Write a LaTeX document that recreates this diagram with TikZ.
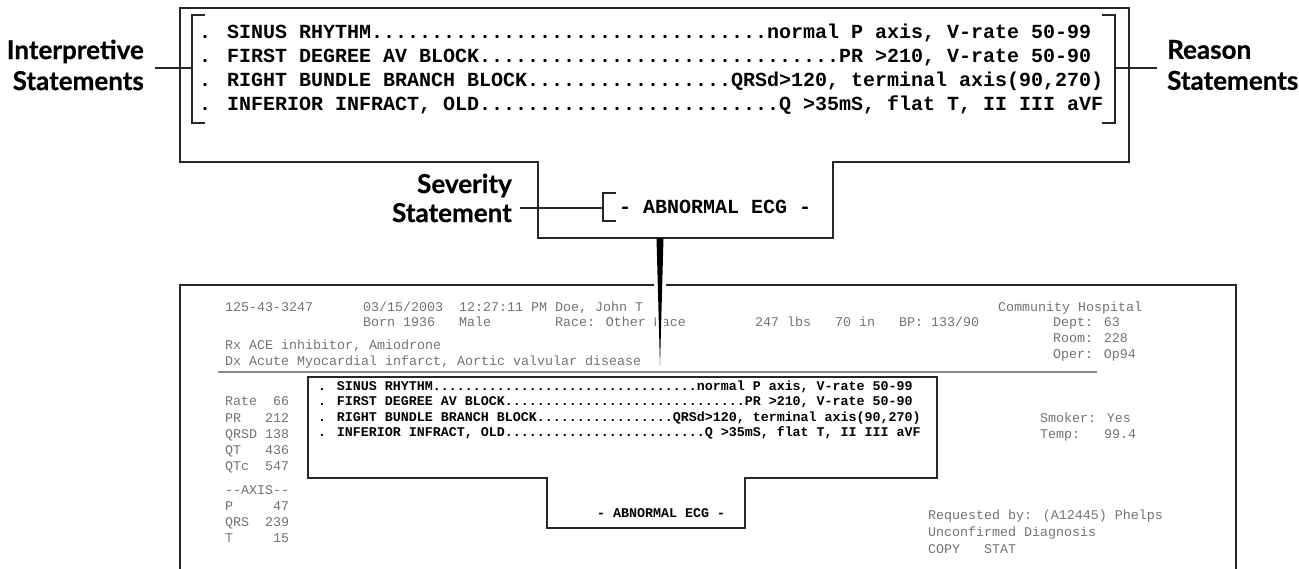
\documentclass[tikz,border=0pt]{standalone}
\usepackage{fontspec}
\setmainfont{Lato}
\newfontfamily\labfont[BoldFeatures={FakeBold=0.6}]{Lato}
\newfontfamily\ecgmono{Liberation Mono}
\definecolor{rep}{gray}{0.45}
\definecolor{frame}{gray}{0.15}
\definecolor{rule}{gray}{0.55}

\tikzset{
  lab/.style={font=\labfont\bfseries\fontsize{26}{31}\selectfont, inner sep=0pt},
  big/.style={font=\ecgmono\bfseries\fontsize{20}{24}\selectfont, anchor=base west, inner sep=0pt},
  small/.style={font=\ecgmono\bfseries\fontsize{13.33}{16}\selectfont, anchor=base west, inner sep=0pt},
  grey/.style={font=\ecgmono\fontsize{13.33}{16}\selectfont, text=rep, anchor=base west, inner sep=0pt},
  outline/.style={draw=frame, line width=1.5pt},
  brk/.style={draw=frame, line width=1.3pt},
  lead/.style={draw=frame, line width=1.2pt},
  repbox/.style={draw=black!85, line width=1.5pt},
  inbox/.style={draw=black!85, line width=2pt},
}

\begin{document}
\begin{tikzpicture}[x=1pt,y=-1pt]
\useasboundingbox (0,0) rectangle (1299,569);
\fill[white] (0,0) rectangle (1299,569);

% ---------- enlarged statement panel ----------
\draw[outline] (180,8) -- (1129,8) -- (1129,162) -- (833,162) -- (833,238)
  -- (538,238) -- (538,162) -- (180,162) -- cycle;

\node[big] (s1) at (199,39) {. SINUS RHYTHM.................................normal P axis, V-rate 50-99};
\node[big] (s2) at (199,63) {. FIRST DEGREE AV BLOCK..............................PR >210, V-rate 50-90};
\node[big] (s3) at (199,87) {. RIGHT BUNDLE BRANCH BLOCK.................QRSd>120, terminal axis(90,270)};
\node[big] (s4) at (199,111) {. INFERIOR INFRACT, OLD.........................Q >35mS, flat T, II III aVF};
\node[big] (sev) at (619,214) {- ABNORMAL ECG -};

% brackets
\draw[brk] (205,15) -- (192,15) -- (192,123) -- (205,123);
\draw[brk] (1102,15) -- (1115,15) -- (1115,123) -- (1102,123);
\draw[brk] (616,193) -- (603,193) -- (603,221) -- (616,221);
\coordinate (ibr) at (192,68);
\coordinate (rbr) at (1115,68);
\coordinate (sbr) at (603,208);

% labels and leaders
\node[lab, anchor=east, align=right] (interp) at (144,65) {Interpretive\\Statements};
\node[lab, anchor=west, align=left] (reason) at (1167,65) {Reason\\Statements};
\node[lab, anchor=east, align=right, font=\labfont\bfseries\fontsize{26}{29}\selectfont] (sevlab) at (512,198) {Severity\\Statement};
\coordinate (ilead) at (155,68);
\coordinate (rlead) at (1157,68);
\coordinate (slead) at (520,208);
\draw[lead] (ilead) -- (ibr);
\draw[lead] (rbr) -- (rlead);
\draw[lead] (slead) -- (sbr);

% ---------- printed report ----------
\node[grey] (id) at (225,312) {125-43-3247};
\node[grey] (date) at (363,312) {03/15/2003\ \ 12:27:11 PM Doe, John T};
\node[grey] (born) at (363,327) {Born 1936\ \ \ Male\ \ \ \ \ \ \ \ Race: Other Race};
\node[grey] (wt) at (755,327) {247 lbs};
\node[grey] (ht) at (835,327) {70 in};
\node[grey] (bp) at (899,327) {BP: 133/90};
\node[grey] (hosp) at (998,312) {Community Hospital};
\node[grey] (dept) at (1053,327) {Dept: 63};
\node[grey] (room) at (1053,343) {Room: 228};
\node[grey] (oper) at (1053,359) {Oper: Op94};
\node[grey] (rx) at (225,350) {Rx ACE inhibitor, Amiodrone};
\node[grey] (dx) at (225,366) {Dx Acute Myocardial infarct, Aortic valvular disease};

\node[grey] (rate) at (225,406) {Rate\ \ 66};
\node[grey] (pr) at (225,422) {PR\ \ \ 212};
\node[grey] (qrsd) at (225,438) {QRSD 138};
\node[grey] (qt) at (225,454) {QT\ \ \ 436};
\node[grey] (qtc) at (225,470) {QTc\ \ 547};
\node[grey] (axis) at (225,494) {-{}-AXIS-{}-};
\node[grey] (pax) at (225,510) {P\ \ \ \ \ 47};
\node[grey] (qrsax) at (225,526) {QRS\ \ 239};
\node[grey] (tax) at (225,542) {T\ \ \ \ \ 15};

\node[grey] (smoke) at (1040,422) {Smoker: Yes};
\node[grey] (temp) at (1040,438) {Temp:\ \ \ 99.4};
\node[grey] (req) at (928,519) {Requested by: (A12445) Phelps};
\node[grey] (unc) at (928,536) {Unconfirmed Diagnosis};
\node[grey] (copy) at (928,553) {COPY\ \ \ STAT};

\draw[repbox] (180,575) -- (180,285) -- (1236,285) -- (1236,575);
\draw[draw=rule, line width=1.3pt] (218,372) -- (1097,372);

\draw[inbox] (308,377) -- (937,377) -- (937,478) -- (745,478) -- (745,528)
  -- (547,528) -- (547,478) -- (308,478) -- cycle;
\node[small] (t1) at (318,390) {. SINUS RHYTHM.................................normal P axis, V-rate 50-99};
\node[small] (t2) at (318,406) {. FIRST DEGREE AV BLOCK..............................PR >210, V-rate 50-90};
\node[small] (t3) at (318,421) {. RIGHT BUNDLE BRANCH BLOCK.................QRSd>120, terminal axis(90,270)};
\node[small] (t4) at (318,436) {. INFERIOR INFRACT, OLD.........................Q >35mS, flat T, II III aVF};
\node[small] (tsev) at (597,517) {- ABNORMAL ECG -};

% pointer from the panel down into the report
\fill[white] (652,246) -- (668,246) -- (661.5,370) -- (658.5,370) -- cycle;
\fill[black] (656.5,238) -- (663.5,238) -- (660,366) -- cycle;
\end{tikzpicture}
\end{document}
